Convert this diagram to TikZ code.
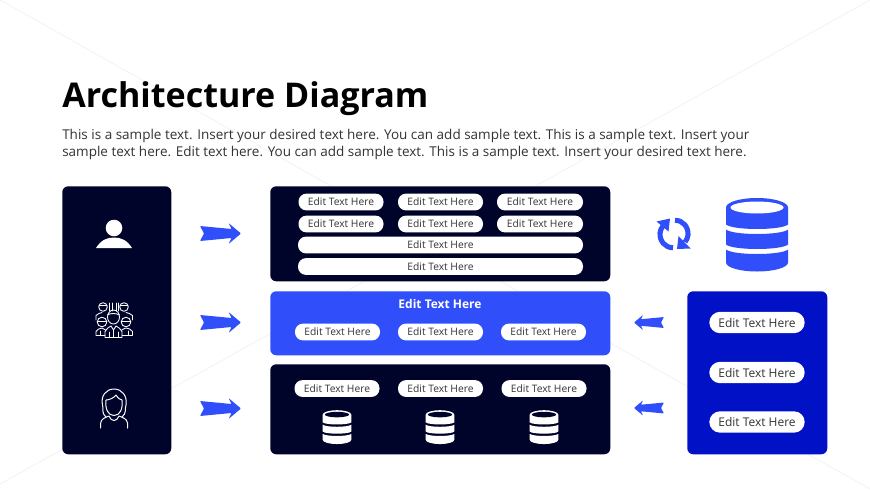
\documentclass[tikz,border=0pt]{standalone}
\usepackage{fontspec}
\setmainfont{Open Sans}
\definecolor{navy}{HTML}{00042B}
\definecolor{vivid}{HTML}{304FFB}
\definecolor{deep}{HTML}{0011C6}
\definecolor{ink}{HTML}{333333}
\definecolor{faint}{HTML}{F3F3F3}
\tikzset{
  x=0.75pt,y=-0.75pt,
  panel/.style={rounded corners=4.5pt,inner sep=0pt,anchor=north west},
  pill/.style={fill=white,rounded corners=6pt,inner sep=0pt,text=ink,font=\fontsize{7.7pt}{9pt}\selectfont,minimum height=12.6pt,minimum width=#1*0.75pt},
  bigpill/.style={fill=white,rounded corners=8pt,inner sep=0pt,text=ink,font=\fontsize{9pt}{11pt}\selectfont,minimum height=16pt,minimum width=71.5pt},
  line/.style={draw=white,line width=0.75pt,line cap=round,line join=round},
  pics/blockarrow/.style={code={
    \fill[vivid,rounded corners=0.6pt] (0,0) -- (-12.5,-10.5) -- (-9.5,-4.5) -- (-41,-7.5) -- (-37,0) -- (-41,7.5) -- (-9.5,4.5) -- (-12.5,10.5) -- cycle;
  }},
  pics/dbase/.style args={#1/#2}{code={
    \fill[#1] (-31,-27) arc[start angle=180,end angle=360,x radius=31,y radius=9.5] -- (31,-10) .. controls (24,-4) and (-24,-4) .. (-31,-10) -- cycle;
    \fill[#2] (0,-27) ellipse[x radius=26.5,y radius=6];
    \fill[#1] (-31,-5) .. controls (-24,1) and (24,1) .. (31,-5) -- (31,10) .. controls (24,16) and (-24,16) .. (-31,10) -- cycle;
    \fill[#1] (-31,15) .. controls (-24,21) and (24,21) .. (31,15) -- (31,28) arc[start angle=0,end angle=180,x radius=31,y radius=9] -- cycle;
  }}
}
\newcommand{\panelbox}[6]{\node[panel,fill=#2,minimum width=#5*0.75pt,minimum height=#6*0.75pt] (#1) at (#3,#4) {};}
\begin{document}
\begin{tikzpicture}
\useasboundingbox (0,0) rectangle (870,489);
\fill[white] (0,0) rectangle (870,489);
\draw[faint,line width=0.6pt] (0,0) -- (870,489);
\draw[faint,line width=0.6pt] (0,484) -- (870,0);

\node[anchor=base west,inner sep=0pt,font=\fontsize{25.55pt}{30pt}\bfseries\selectfont,text=black] (title) at (62,107) {Architecture Diagram};
\node[anchor=base west,inner sep=0pt,font=\fontsize{10.13pt}{12pt}\selectfont,text=ink] (lineone) at (62,139) {This is a sample text. Insert your desired text here. You can add sample text. This is a sample text. Insert your};
\node[anchor=base west,inner sep=0pt,font=\fontsize{10.13pt}{12pt}\selectfont,text=ink] (linetwo) at (62,156) {sample text here. Edit text here. You can add sample text. This is a sample text. Insert your desired text here.};

\panelbox{left}{navy}{62}{186}{109}{268}
\panelbox{top}{navy}{270}{186}{340}{95}
\panelbox{mid}{vivid}{270}{291}{340}{64}
\panelbox{bot}{navy}{270}{364}{340}{90}
\panelbox{right}{deep}{687}{291}{140}{163}

% top panel
\node[pill=85] (t11) at (341,202) {Edit Text Here};
\node[pill=85] (t12) at (440.5,202) {Edit Text Here};
\node[pill=86] (t13) at (540,202) {Edit Text Here};
\node[pill=85] (t21) at (341,224) {Edit Text Here};
\node[pill=85] (t22) at (440.5,224) {Edit Text Here};
\node[pill=86] (t23) at (540,224) {Edit Text Here};
\node[pill=285] (t3) at (440.5,245) {Edit Text Here};
\node[pill=285] (t4) at (440.5,266.5) {Edit Text Here};

% middle panel
\node[inner sep=0pt,text=white,font=\fontsize{9pt}{11pt}\bfseries\selectfont] (midtitle) at (440,304) {Edit Text Here};
\node[pill=85] (m1) at (337.5,332) {Edit Text Here};
\node[pill=85] (m2) at (440.5,332) {Edit Text Here};
\node[pill=85] (m3) at (543.5,332) {Edit Text Here};

% bottom panel
\node[pill=85] (b1) at (337,388.5) {Edit Text Here};
\node[pill=85] (b2) at (440.5,388.5) {Edit Text Here};
\node[pill=85] (b3) at (544,388.5) {Edit Text Here};
\pic[scale=0.46] at (337,427) {dbase=white/navy};
\pic[scale=0.46] at (440,427) {dbase=white/navy};
\pic[scale=0.46] at (544,427) {dbase=white/navy};

% right panel
\node[bigpill] (r1) at (757,322.5) {Edit Text Here};
\node[bigpill] (r2) at (757,372.5) {Edit Text Here};
\node[bigpill] (r3) at (757,422) {Edit Text Here};

% arrows
\pic at (241,233.5) {blockarrow};
\pic at (241,322.5) {blockarrow};
\pic at (241,408.5) {blockarrow};
\pic[xscale=-0.73,yscale=0.73] at (634,322.5) {blockarrow};
\pic[xscale=-0.73,yscale=0.73] at (634,408) {blockarrow};

% database and refresh
\pic at (757,234.5) {dbase=vivid/white};
\begin{scope}[shift={(674,234)}]
  \draw[vivid,line width=3.8pt] (-1,13.7) .. controls (-9,13.7) and (-14.5,7) .. (-14,-1) .. controls (-13.8,-4) and (-12.5,-6) .. (-11,-8);
  \fill[vivid] (-17.5,-12.5) -- (-4,-15.5) -- (-5.5,-2.5) -- cycle;
  \draw[vivid,line width=3.8pt] (1,-13.7) .. controls (9,-13.7) and (14.5,-7) .. (14,1) .. controls (13.8,4) and (12.5,6) .. (11,8);
  \fill[vivid] (16.5,14.5) -- (3,15) -- (4.5,2) -- cycle;
\end{scope}

% person
\fill[white] (114,228) circle[radius=8.3];
\fill[white] (96,248) .. controls (101,240) and (107,237.5) .. (114,237.5) .. controls (121,237.5) and (127,240) .. (132,248) -- cycle;

% group
\begin{scope}[line/.append style={line width=0.65pt}]
  \draw[line] (103,307) circle[radius=4.3];
  \draw[line] (124,307) circle[radius=4.3];
  \draw[line] (99,305.5) -- (107,305.5);
  \draw[line] (120,305.5) -- (128,305.5);
  \draw[line] (109.5,303) -- (109.5,311) (112,303) -- (112,311) (116,303) -- (116,311) (118,303) -- (118,311);
  \draw[line] (96,320) -- (96,315.5) .. controls (98,313.5) and (100,313) .. (102,312.5);
  \draw[line] (132.5,320) -- (132.5,315.5) .. controls (130.5,313.5) and (128,313) .. (126,312.5);
  \draw[line] (113.5,317) ellipse[x radius=6,y radius=7];
  \draw[line] (107.5,315) .. controls (110,313) and (116,313) .. (119.5,315);
  \draw[line] (102,322) circle[radius=4.8];
  \draw[line] (126,322) circle[radius=4.8];
  \draw[line] (97.2,321) -- (106.8,321);
  \draw[line] (121.2,321) -- (130.8,321);
  \draw[line] (96,335) -- (96,331.5) .. controls (97,329) and (100,328.5) .. (102,328) .. controls (103.5,328.5) and (104.5,329) .. (105.5,330);
  \draw[line] (132.5,335) -- (132.5,331.5) .. controls (131.5,329) and (128,328.5) .. (126,328) .. controls (124.5,328.5) and (123,329) .. (122,330);
  \draw[line] (105,337) -- (105,331.5) .. controls (106,328.5) and (109,327.5) .. (111,326) -- (113.5,330) -- (116,326) .. controls (118,327.5) and (121,328.5) .. (122,331.5) -- (122,337);
  \draw[line] (96,335) -- (105,335) (122,335) -- (132.5,335) (105,337) -- (122,337);
  \draw[line] (113.5,330) -- (113.5,337);
  \draw[line] (100,331) -- (100,335) (128.5,331) -- (128.5,335) (109,332) -- (109,337) (118,332) -- (118,337);
\end{scope}

% woman
\draw[line] (106,417) .. controls (101,413) and (104,409) .. (102.5,405) .. controls (100.5,396) and (106,389) .. (114,389) .. controls (122,389) and (127.5,396) .. (126,405) .. controls (124.5,409) and (127,413) .. (122,417);
\draw[line] (106,400) .. controls (109,400) and (114,398) .. (116,395) .. controls (118,398) and (120,400) .. (122,400) .. controls (123,409) and (120,415.5) .. (114,415.5) .. controls (108,415.5) and (105,409) .. (106,400);
\draw[line] (100.7,428) -- (100.7,423) .. controls (101,419) and (105,417.5) .. (109,416) .. controls (110,419) and (112,420.5) .. (114,420.5) .. controls (116,420.5) and (118,419) .. (119,416) .. controls (123,417.5) and (127,419) .. (127.5,423) -- (127.5,428);
\end{tikzpicture}
\end{document}
